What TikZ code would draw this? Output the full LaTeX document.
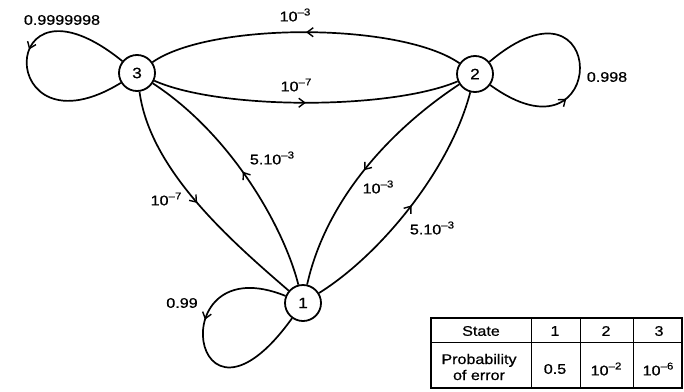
\documentclass[tikz,border=0pt]{standalone}
\usepackage{fontspec}
\setmainfont{Liberation Sans}[FakeStretch=1.15,FakeBold=0.6]
\usetikzlibrary{arrows.meta,decorations.markings}
\newcommand{\myexp}[1]{\raisebox{0.42em}{\fontsize{10}{10}\selectfont #1}}
\begin{document}
\begin{tikzpicture}[x=1pt,y=-1pt,
  state/.style={circle,draw,line width=1.8pt,minimum size=36pt,inner sep=0pt,font=\fontsize{15}{15}\selectfont},
  edge/.style={line width=1.7pt},
  arrowat/.style={postaction={decorate},decoration={markings,mark=at position #1 with {\arrow{Straight Barb[length=6pt,width=9pt,line width=1.4pt]}}}},
  lab/.style={font=\fontsize{14}{14}\selectfont,inner sep=0pt},
  tab/.style={font=\fontsize{14}{16}\selectfont,inner sep=0pt,align=center}]
\useasboundingbox[fill=white] (0,0) rectangle (684,391);

\node[state] (n3) at (137,73) {3};
\node[state] (n2) at (475,74) {2};
\node[state] (n1) at (303,303) {1};

% 3 <-> 2
\draw[edge,arrowat=0.5] (n2) .. controls (400,22) and (210,22) .. (n3);
\draw[edge,arrowat=0.5] (n3) .. controls (220,110) and (390,110) .. (n2);
% 3 <-> 1
\draw[edge,arrowat=0.5] (n3) .. controls (150,170) and (230,240) .. (n1);
\draw[edge,arrowat=0.5] (n1) .. controls (284,228) and (232,135) .. (n3);
% 2 <-> 1
\draw[edge,arrowat=0.5] (n2) .. controls (390,130) and (326,200) .. (n1);
\draw[edge,arrowat=0.5] (n1) .. controls (380,255) and (450,170) .. (n2);
% loops
\draw[edge,arrowat=0.45] (n3) .. controls (-5,-42) and (-5,160) .. (n3);
\draw[edge,arrowat=0.35] (n2) .. controls (610,172) and (610,-40) .. (n2);
\draw[edge,arrowat=0.4] (n1) .. controls (160,245) and (190,460) .. (n1);

% labels
\node[lab] (l33) at (62,20) {0.9999998};
\node[lab] (l32) at (295,15) {10\myexp{–3}};
\node[lab] (l23) at (296,85) {10\myexp{–7}};
\node[lab] (l22) at (607,77) {0.998};
\node[lab] (l31) at (166,199) {10\myexp{–7}};
\node[lab] (l13) at (272,158) {5.10\myexp{–3}};
\node[lab] (l21) at (378,187) {10\myexp{–3}};
\node[lab] (l12) at (432,228) {5.10\myexp{–3}};
\node[lab] (l11) at (182,303) {0.99};

% table
\draw[line width=1.4pt] (431,318) rectangle (682,388);
\draw[line width=1pt] (431,342) -- (682,342);
\draw[line width=1pt] (531,318) -- (531,388);
\draw[line width=1pt] (580,318) -- (580,388);
\draw[line width=1pt] (633,318) -- (633,388);
\node[tab] (tstate) at (481,331) {State};
\node[tab] (t1) at (555,331) {1};
\node[tab] (t2) at (606,331) {2};
\node[tab] (t3) at (659,331) {3};
\node[tab] (tprob) at (479,367) {Probability\\of error};
\node[tab] (v1) at (555,369) {0.5};
\node[tab] (v2) at (606,369) {10\myexp{–2}};
\node[tab] (v3) at (658,369) {10\myexp{–6}};
\end{tikzpicture}
\end{document}
